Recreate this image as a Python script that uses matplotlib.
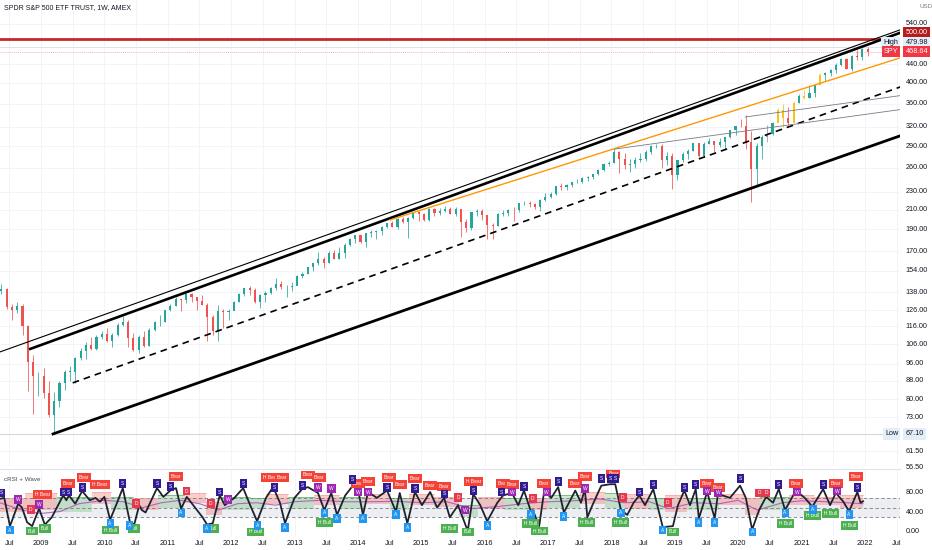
import matplotlib
matplotlib.use("Agg")
import matplotlib.pyplot as plt
import matplotlib.transforms as mtransforms
from matplotlib.ticker import NullLocator
import numpy as np

plt.rcParams['font.family'] = ['Liberation Sans', 'DejaVu Sans']

# ---------------- price data (monthly OHLC) ----------------
start_year = 2008
start_month = 5
first_open = 138.9
closes = [
    140.35, 127.98, 126.30, 128.80, 115.99, 96.83, 89.96, 90.24,
    82.83, 73.93, 79.52, 87.00, 91.90, 91.95, 98.81, 102.46, 105.59, 103.56, 109.94, 111.44,
    107.39, 110.74, 117.00, 118.81, 109.37, 102.88, 110.00, 104.99, 114.12, 118.49, 118.52, 125.75,
    128.68, 133.15, 132.59, 136.58, 134.90, 131.97, 129.33, 121.66, 113.15, 125.50, 124.99, 125.50,
    131.32, 137.02, 140.81, 139.87, 131.47, 136.10, 137.71, 140.64, 143.97, 141.35, 141.45, 142.41,
    149.70, 151.61, 156.67, 159.68, 163.45, 160.42, 168.71, 163.65, 168.01, 175.79, 181.00, 184.69,
    178.21, 186.29, 187.01, 188.31, 192.68, 195.72, 192.50, 200.71, 197.02, 201.66, 207.20, 205.54,
    199.45, 210.66, 206.43, 208.46, 211.14, 205.85, 210.50, 197.67, 191.63, 207.93, 208.69, 203.87,
    193.72, 193.56, 205.52, 206.33, 209.84, 209.48, 217.12, 217.38, 216.30, 212.55, 220.38, 223.53,
    227.53, 236.47, 235.74, 238.08, 241.44, 241.80, 246.77, 247.49, 251.23, 257.15, 265.01, 266.86,
    281.90, 271.65, 263.15, 264.51, 270.94, 271.28, 281.33, 290.31, 290.72, 270.63, 275.65, 249.92,
    269.93, 278.68, 282.48, 294.02, 275.27, 293.00, 297.43, 292.45, 296.77, 303.33, 314.31, 321.86,
    321.73, 296.26, 257.75, 290.48, 304.32, 308.36, 326.52, 349.31, 334.89, 326.54, 362.06, 373.88,
    370.07, 380.36, 396.33, 417.30, 420.04, 428.06, 438.51, 451.56, 429.14, 459.25, 455.56, 474.96,
    468.64,
]
highs = [
    144.0, 141.0, 130.0, 131.0, 130.0, 117.0, 100.0, 92.0,
    94.0, 88.0, 83.0, 88.0, 93.0, 95.0, 99.0, 104.0, 107.0, 110.0, 111.0, 113.0,
    115.0, 112.0, 118.0, 122.1, 120.0, 112.0, 111.0, 113.0, 115.0, 119.0, 122.6, 126.0,
    130.0, 134.7, 133.0, 137.2, 137.2, 134.5, 136.0, 130.5, 123.0, 129.0, 127.0, 127.0,
    132.0, 137.5, 141.0, 142.2, 141.0, 136.5, 138.5, 142.0, 148.1, 146.0, 143.0, 145.5,
    150.5, 153.3, 157.0, 160.0, 169.1, 165.0, 170.0, 170.9, 173.6, 177.0, 181.8, 184.7,
    184.7, 186.7, 189.7, 189.0, 192.8, 196.5, 198.3, 201.0, 201.9, 202.0, 207.8, 209.0,
    206.8, 212.2, 211.9, 212.0, 213.8, 212.5, 213.0, 211.0, 200.0, 208.0, 211.0, 211.0,
    201.9, 196.0, 206.5, 209.8, 210.7, 212.5, 217.7, 219.6, 219.2, 217.0, 221.8, 228.3,
    229.7, 237.3, 240.3, 239.5, 242.0, 245.0, 248.0, 248.9, 252.0, 258.0, 266.0, 268.6,
    286.6, 283.0, 280.0, 271.3, 274.2, 279.5, 284.4, 291.7, 293.9, 293.2, 281.2, 280.4,
    270.5, 281.3, 285.2, 294.5, 294.9, 296.3, 302.2, 297.6, 302.5, 304.0, 315.5, 322.1,
    332.9, 339.1, 313.8, 294.9, 306.8, 323.4, 327.2, 351.3, 358.8, 354.0, 364.4, 378.5,
    385.9, 395.6, 398.0, 420.7, 422.8, 428.6, 441.8, 453.1, 454.0, 461.0, 473.5, 479.0,
    479.98,
]
lows = [
    137.0, 127.0, 120.0, 124.0, 111.0, 83.6, 74.3, 81.5,
    80.5, 73.0, 67.1, 77.0, 84.0, 88.0, 87.0, 97.5, 98.0, 103.0, 103.0, 108.5,
    107.0, 104.6, 110.5, 116.0, 104.4, 102.5, 101.1, 104.5, 105.0, 113.0, 116.0, 118.5,
    125.5, 128.5, 125.3, 130.5, 131.5, 125.9, 129.0, 107.4, 111.0, 107.4, 115.0, 120.0,
    126.0, 131.0, 135.0, 135.8, 130.5, 127.1, 131.5, 136.5, 139.5, 140.5, 134.7, 139.0,
    144.7, 148.0, 151.0, 153.5, 158.7, 155.7, 160.0, 163.0, 163.7, 164.5, 174.5, 177.3,
    176.9, 173.7, 182.6, 181.3, 184.7, 191.7, 192.5, 190.5, 196.0, 181.9, 200.5, 197.9,
    198.5, 198.3, 203.0, 204.0, 207.0, 205.0, 203.0, 182.4, 187.0, 189.0, 203.0, 199.0,
    181.1, 181.0, 193.5, 203.0, 202.8, 198.7, 207.5, 215.5, 212.3, 211.2, 208.4, 219.5,
    222.7, 226.6, 232.0, 232.5, 235.4, 240.0, 241.0, 242.7, 246.0, 251.0, 256.0, 262.5,
    266.0, 252.9, 257.8, 254.7, 259.0, 268.0, 269.5, 279.2, 287.0, 259.8, 263.1, 233.8,
    243.7, 268.0, 272.0, 282.5, 275.0, 274.5, 292.5, 281.7, 289.0, 284.8, 303.0, 307.0,
    320.0, 285.5, 218.3, 238.0, 272.0, 296.7, 306.5, 327.7, 319.8, 322.6, 327.2, 362.0,
    368.3, 370.4, 371.9, 398.2, 404.0, 414.7, 421.0, 436.1, 428.8, 425.4, 450.4, 448.9,
    459.0,
]
yellow_months = ['2020-08', '2020-09', '2020-11', '2021-01', '2021-04']
gray_months = ['2020-06']

last_price = 468.64
high_price = 479.98
low_price = 67.10
resistance_level = 500.0

# ---------------- drawings (decimal year, price) ----------------
upper_thin_t = [2008.35, 2022.55];  upper_thin_p = [101.8, 523.8]
upper_thick_t = [2008.83, 2022.55]; upper_thick_p = [103.4, 515.9]
lower_thick_t = [2009.19, 2022.55]; lower_thick_p = [67.1, 305.5]
dashed_t = [2009.50, 2022.60];      dashed_p = [87.0, 393.9]
orange_t = [2014.51, 2022.60];      orange_p = [199.3, 456.6]
gray_a_t = [2018.06, 2022.63];      gray_a_p = [285.9, 350.5]
gray_b_t = [2020.11, 2022.63];      gray_b_p = [336.4, 376.3]
arrow_t = [2021.17, 2022.63];       arrow_p = [401.0, 401.0]

# ---------------- indicator (cRSI + Wave) ----------------
rsi_t = [2008.35, 2008.42, 2008.51, 2008.64, 2008.70, 2008.78, 2008.86, 2008.97, 2009.06, 2009.17,
         2009.25, 2009.35, 2009.40, 2009.44, 2009.54, 2009.65, 2009.77, 2009.86, 2009.93, 2010.00,
         2010.09, 2010.20, 2010.29, 2010.40, 2010.47, 2010.55, 2010.59, 2010.65, 2010.83, 2010.93,
         2011.04, 2011.13, 2011.21, 2011.30, 2011.46, 2011.55, 2011.62, 2011.71, 2011.82, 2011.90,
         2011.95, 2012.05, 2012.19, 2012.30, 2012.41, 2012.55, 2012.64, 2012.69, 2012.77, 2012.85,
         2013.00, 2013.12, 2013.21, 2013.37, 2013.47, 2013.58, 2013.67, 2013.80, 2013.92, 2014.00,
         2014.08, 2014.16, 2014.30, 2014.46, 2014.60, 2014.66, 2014.78, 2014.90, 2015.01, 2015.14,
         2015.25, 2015.36, 2015.45, 2015.58, 2015.71, 2015.74, 2015.82, 2015.93, 2016.04, 2016.20,
         2016.29, 2016.43, 2016.53, 2016.62, 2016.73, 2016.76, 2016.86, 2016.94, 2017.05, 2017.16,
         2017.25, 2017.43, 2017.52, 2017.58, 2017.62, 2017.70, 2017.84, 2017.98, 2018.06, 2018.15,
         2018.25, 2018.35, 2018.44, 2018.53, 2018.66, 2018.81, 2018.97, 2019.05, 2019.15, 2019.24,
         2019.33, 2019.38, 2019.51, 2019.63, 2019.68, 2019.87, 2020.03, 2020.12, 2020.22, 2020.33,
         2020.44, 2020.55, 2020.64, 2020.74, 2020.91, 2021.05, 2021.17, 2021.34, 2021.45, 2021.54,
         2021.66, 2021.75, 2021.88, 2021.93, 2021.97]
rsi_v = [68, 70, 12, 58, 50, 20, 12, 48, 15, 30,
         50, 75, 65, 75, 58, 84, 65, 70, 62, 72,
         25, 60, 90, 22, 15, 55, 45, 40, 90, 72,
         85, 90, 48, 72, 45, 30, 15, 18, 75, 55,
         60, 70, 90, 55, 22, 70, 88, 84, 60, 18,
         70, 88, 92, 80, 45, 80, 35, 75, 95, 88,
         35, 82, 70, 85, 42, 80, 18, 82, 55, 82,
         50, 70, 30, 55, 10, 8, 78, 55, 22, 60,
         75, 80, 55, 85, 42, 45, 12, 85, 70, 92,
         40, 85, 60, 88, 30, 55, 95, 98, 98, 45,
         35, 60, 75, 55, 88, 10, 12, 55, 85, 55,
         88, 28, 82, 28, 78, 70, 95, 70, 5, 45,
         72, 60, 88, 45, 85, 70, 52, 88, 55, 80,
         62, 42, 82, 60, 63]
avg_t = [2008.35, 2008.7, 2009.0, 2009.3, 2009.6, 2010.0, 2010.3, 2010.6, 2010.9, 2011.2,
         2011.5, 2011.8, 2012.1, 2012.4, 2012.7, 2013.0, 2013.4, 2013.8, 2014.2, 2014.6,
         2015.0, 2015.4, 2015.8, 2016.2, 2016.6, 2017.0, 2017.4, 2017.8, 2018.2, 2018.6,
         2018.9, 2019.3, 2019.7, 2020.0, 2020.3, 2020.7, 2021.0, 2021.4, 2021.7, 2021.97]
avg_v = [60, 45, 38, 42, 58, 65, 62, 50, 60, 65,
         58, 45, 58, 60, 55, 62, 65, 62, 62, 63,
         60, 62, 48, 52, 58, 62, 64, 68, 60, 62,
         48, 60, 58, 65, 45, 60, 64, 62, 60, 58]
cloud_t = [2008.35, 2008.75, 2009.25, 2009.8, 2010.1, 2010.45, 2010.85, 2011.25, 2011.6, 2011.85,
           2012.3, 2012.55, 2012.9, 2013.3, 2013.7, 2014.1, 2014.5, 2014.8, 2015.2, 2015.6,
           2015.9, 2016.3, 2016.75, 2017.0, 2017.5, 2017.9, 2018.2, 2018.6, 2018.85, 2019.2,
           2019.7, 2020.1, 2020.35, 2020.8, 2021.2, 2021.6, 2021.97]
cloud_top = [70, 80, 72, 82, 72, 70, 75, 80, 62, 72,
             70, 78, 72, 76, 72, 78, 70, 78, 72, 55,
             72, 70, 70, 75, 82, 80, 78, 70, 75, 70,
             78, 70, 72, 75, 72, 75]
cloud_bot = [40, 45, 40, 58, 45, 45, 50, 60, 35, 45,
             50, 58, 48, 55, 48, 58, 45, 55, 52, 30,
             48, 45, 45, 50, 58, 50, 48, 45, 40, 45,
             55, 35, 45, 55, 55, 50]
cloud_bull = [0, 0, 1, 0, 1, 0, 1, 0, 0, 1,
              1, 0, 1, 0, 1, 0, 1, 0, 0, 1,
              0, 1, 0, 1, 0, 1, 0, 1, 0, 1,
              0, 0, 1, 0, 0, 0]
rsi_levels = [70, 50, 30]

bear_t = [2009.02, 2009.43, 2009.68, 2009.93, 2011.13, 2012.62, 2012.80, 2013.21, 2013.39, 2014.00,
          2014.16, 2014.49, 2014.66, 2014.90, 2015.14, 2015.36, 2015.82, 2016.29, 2016.43, 2016.94,
          2017.43, 2017.58, 2018.03, 2019.51, 2019.68, 2020.91, 2021.54, 2021.86]
bear_v = [76, 100, 111, 98, 113, 111, 111, 117, 111, 100,
          103, 111, 98, 109, 96, 94, 103, 100, 98, 100,
          100, 113, 119, 100, 92, 100, 100, 113]
bear_txt = ['H Bear', 'Bear', 'Bear', 'H Bear', 'Bear', 'H Bear', 'Bear', 'Bear', 'Bear', 'Bear',
            'Bear', 'Bear', 'Bear', 'Bear', 'Bear', 'Bear', 'H Bear', 'Bear', 'Bear', 'Bear',
            'Bear', 'Bear', 'Bear', 'Bear', 'Bear', 'Bear', 'Bear', 'Bear']
bull_t = [2008.86, 2009.06, 2010.09, 2010.47, 2011.71, 2012.39, 2013.47, 2015.45, 2015.74, 2016.73,
          2016.86, 2017.61, 2018.15, 2018.97, 2020.74, 2021.17, 2021.45, 2021.76]
bull_v = [2, 8, 4, 8, 8, 0, 20, 8, 0, 18,
          2, 20, 20, 0, 18, 33, 37, 14]
bull_txt = ['Bull', 'Bull', 'H Bull', 'Bull', 'Bull', 'H Bull', 'H Bull', 'H Bull', 'Bull', 'H Bull',
            'H Bull', 'H Bull', 'H Bull', 'Bull', 'H Bull', 'H Bull', 'H Bull', 'H Bull']
a_t = [2008.51, 2010.09, 2010.40, 2011.21, 2011.62, 2012.41, 2012.85, 2013.47, 2013.67, 2014.08,
       2014.60, 2014.78, 2016.04, 2016.73, 2017.25, 2018.15, 2018.81, 2019.38, 2019.63, 2020.22,
       2020.74, 2021.18, 2021.75]
a_v = [4, 18, 14, 39, 8, 14, 10, 39, 27, 27,
       35, 10, 14, 35, 31, 39, 4, 20, 20, 0,
       39, 47, 35]
s_t = [2008.37, 2009.35, 2009.44, 2009.65, 2010.29, 2010.83, 2011.04, 2011.82, 2012.19, 2012.69,
       2013.12, 2013.92, 2014.46, 2014.90, 2015.36, 2015.82, 2016.26, 2016.62, 2017.16, 2017.84,
       2017.98, 2018.06, 2018.44, 2018.66, 2019.15, 2019.33, 2020.03, 2020.64, 2021.34, 2021.88]
s_v = [80, 82, 82, 92, 100, 100, 94, 82, 100, 92,
       96, 107, 92, 90, 78, 86, 82, 94, 103, 109,
       109, 109, 82, 98, 92, 98, 109, 98, 98, 92]
w_t = [2008.64, 2008.97, 2011.95, 2013.37, 2013.58, 2014.00, 2014.16, 2015.69, 2016.43, 2016.98,
       2017.58, 2019.51, 2019.68, 2020.93, 2021.56]
w_v = [66, 57, 66, 92, 90, 82, 82, 45, 82, 82,
       90, 84, 80, 82, 84]
d_t = [2008.84, 2010.50, 2011.30, 2011.68, 2015.58, 2016.76, 2018.18, 2018.89, 2020.33, 2020.44]
d_v = [47, 59, 84, 59, 70, 68, 70, 61, 80, 80]

price_ticks = [540, 440, 400, 360, 320, 290, 260, 230, 210, 190, 170, 154, 138, 126, 116, 106,
               96, 88, 80, 73, 61.5]
extra_price_tick = 56.5
rsi_ticks = [80, 40, 0]
x_ticks = [2008.5 + 0.5 * i for i in range(29)]
x_labels = ['Jul' if i % 2 == 0 else str(2009 + i // 2) for i in range(29)]

# ---------------- figure ----------------
W, H = 932, 550
fig = plt.figure(figsize=(W / 100, H / 100), dpi=100)
fig.patch.set_facecolor('white')
ax = fig.add_axes([0, 84 / H, 900 / W, 466 / H])
ax2 = fig.add_axes([0, 13 / H, 900 / W, 68 / H])

XMIN, XMAX = 2008.353, 2022.553
txt_col = '#131722'
grid_col = '#f0f3fa'

for a in (ax, ax2):
    a.set_xlim(XMIN, XMAX)
    for s in a.spines.values():
        s.set_visible(False)
    a.set_facecolor('white')

ax.set_yscale('log')
ax.set_ylim(57.0, 610.0)
ax.yaxis.set_major_locator(NullLocator())
ax.yaxis.set_minor_locator(NullLocator())
ax.set_xticks([])

# grid
for p in price_ticks:
    ax.axhline(p, color=grid_col, lw=0.6, zorder=0)
for xt in x_ticks:
    ax.axvline(xt, color=grid_col, lw=0.6, zorder=0)
    ax2.axvline(xt, color=grid_col, lw=0.6, zorder=0)

# candles
n = len(closes)
opens = [first_open] + closes[:-1]
month_keys = []
tt = []
for i in range(n):
    m = start_month - 1 + i
    y = start_year + m // 12
    mm = m % 12 + 1
    month_keys.append(f"{y}-{mm:02d}")
    tt.append(start_year + (m + 0.5) / 12)
tt = np.array(tt)
cols = []
for i in range(n):
    c = '#26a69a' if closes[i] >= opens[i] else '#ef5350'
    if month_keys[i] in yellow_months:
        c = '#f5c518'
    elif month_keys[i] in gray_months:
        c = '#9598a1'
    cols.append(c)
ax.vlines(tt, lows, highs, colors=cols, lw=0.55, zorder=2)
bottoms = np.minimum(opens, closes)
heights = np.maximum(np.abs(np.array(closes) - np.array(opens)), 0.3)
ax.bar(tt, heights, bottom=bottoms, width=0.4 / 12, color=cols, lw=0, zorder=3)

# horizontal levels
ax.axhline(resistance_level, color='#c62828', lw=2.0, zorder=4)
ax.axhline(high_price, color='#d6e4f5', lw=0.7, zorder=1)
ax.axhline(last_price, color='#f7b3b6', lw=0.7, ls=(0, (1, 1)), zorder=1)
ax.axhline(low_price, color='#d1d4dc', lw=0.7, zorder=1)

# trend lines
ax.plot(upper_thin_t, upper_thin_p, color='black', lw=0.8, zorder=5)
ax.plot(upper_thick_t, upper_thick_p, color='black', lw=1.9, zorder=5)
ax.plot(lower_thick_t, lower_thick_p, color='black', lw=2.0, zorder=5)
ax.plot(dashed_t, dashed_p, color='black', lw=1.2, ls=(0, (4, 3)), zorder=5)
ax.plot(orange_t, orange_p, color='#ff9800', lw=1.0, zorder=5)
ax.plot(gray_a_t, gray_a_p, color='#787b86', lw=0.6, zorder=5)
ax.plot(gray_b_t, gray_b_p, color='#787b86', lw=0.6, zorder=5)
ax.annotate('', xy=(arrow_t[1], arrow_p[1]), xytext=(arrow_t[0], arrow_p[0]),
            arrowprops=dict(arrowstyle='->', color='#5d606b', lw=1.3,
                            shrinkA=0, shrinkB=0, mutation_scale=6), zorder=5)

# right price scale labels
trans = mtransforms.blended_transform_factory(ax.transAxes, ax.transData)
fs = 5.2
for p in price_ticks:
    ax.text(1.006, p, f"{p:.2f}", transform=trans, fontsize=fs, color=txt_col,
            va='center', ha='left', clip_on=False)
ax.text(1.006, extra_price_tick, f"{extra_price_tick:.2f}", transform=trans, fontsize=fs,
        color=txt_col, va='center', ha='left', clip_on=False)
ax.text(1.006, 516, f"{resistance_level:.2f}", transform=trans, fontsize=fs, color='white',
        va='center', ha='left', clip_on=False, zorder=10,
        bbox=dict(boxstyle='square,pad=0.3', fc='#b71c1c', ec='none'))
ax.text(1.006, 490.5, f"{high_price:.2f}", transform=trans, fontsize=fs, color=txt_col,
        va='center', ha='left', clip_on=False, zorder=10,
        bbox=dict(boxstyle='square,pad=0.3', fc='#e3eefb', ec='none'))
ax.text(0.998, 490.5, "High", transform=trans, fontsize=fs, color=txt_col,
        va='center', ha='right', clip_on=False, zorder=10,
        bbox=dict(boxstyle='square,pad=0.3', fc='#e3eefb', ec='none'))
ax.text(1.006, last_price, f"{last_price:.2f}", transform=trans, fontsize=fs, color='white',
        va='center', ha='left', clip_on=False, zorder=10,
        bbox=dict(boxstyle='square,pad=0.3', fc='#f23645', ec='none'))
ax.text(0.998, last_price, "SPY", transform=trans, fontsize=fs, color='white',
        va='center', ha='right', clip_on=False, zorder=10,
        bbox=dict(boxstyle='square,pad=0.3', fc='#f23645', ec='none'))
ax.text(1.006, low_price, f"{low_price:.2f}", transform=trans, fontsize=fs, color=txt_col,
        va='center', ha='left', clip_on=False, zorder=10,
        bbox=dict(boxstyle='square,pad=0.3', fc='#e3eefb', ec='none'))
ax.text(0.998, low_price, "Low", transform=trans, fontsize=fs, color=txt_col,
        va='center', ha='right', clip_on=False, zorder=10,
        bbox=dict(boxstyle='square,pad=0.3', fc='#e3eefb', ec='none'))
ax.text(1.022, 0.985, "USD", transform=ax.transAxes, fontsize=4.5, color='#787b86',
        va='center', ha='left', clip_on=False)

# title
ax.text(0.004, 0.983, "SPDR S&P 500 ETF TRUST, 1W, AMEX", transform=ax.transAxes,
        fontsize=5.0, color=txt_col, va='center', ha='left')

# ---------------- indicator pane ----------------
ax2.set_ylim(-10.3, 129.2)
ax2.set_yticks([])
ax2.spines['top'].set_visible(True)
ax2.spines['top'].set_color('#e0e3eb')
ax2.spines['top'].set_linewidth(0.8)

ax2.fill_between([XMIN, XMAX], rsi_levels[2], rsi_levels[0], color='#eceef2', lw=0, zorder=0)
for lv in rsi_levels:
    ax2.axhline(lv, color='#787b86', lw=0.6, ls=(0, (4, 3)), zorder=1)

for i in range(len(cloud_t) - 1):
    if cloud_bull[i]:
        fc, ec = '#4caf50', '#43a047'
    else:
        fc, ec = '#f44336', '#ef9a9a'
    ax2.fill_between([cloud_t[i], cloud_t[i + 1]], cloud_bot[i], cloud_top[i],
                     color=fc, alpha=0.26, lw=0, zorder=1)
    ax2.plot([cloud_t[i], cloud_t[i + 1]], [cloud_top[i], cloud_top[i]], color=ec,
             lw=0.5, alpha=0.8, zorder=1)

ax2.plot(avg_t, avg_v, color='#ab47bc', lw=0.8, alpha=0.8, zorder=2)
ax2.plot(rsi_t, rsi_v, color='#1e222d', lw=1.3, zorder=3)

lfs = 3.5


def box_labels(ts, vs, txts, fc):
    for t0, v0, s in zip(ts, vs, txts):
        ax2.text(t0, v0, s, fontsize=lfs, color='white', ha='center', va='center', zorder=6,
                 bbox=dict(boxstyle='square,pad=0.4', fc=fc, ec='none'))


box_labels(bear_t, bear_v, bear_txt, '#f44336')
box_labels(bull_t, bull_v, bull_txt, '#4caf50')
box_labels(a_t, a_v, ['A'] * len(a_t), '#2196f3')
box_labels(s_t, s_v, ['S'] * len(s_t), '#311b92')
box_labels(w_t, w_v, ['W'] * len(w_t), '#9c27b0')
box_labels(d_t, d_v, ['D'] * len(d_t), '#e53950')

trans2 = mtransforms.blended_transform_factory(ax2.transAxes, ax2.transData)
for v in rsi_ticks:
    ax2.text(1.006, v, f"{v:.2f}", transform=trans2, fontsize=fs, color=txt_col,
             va='center', ha='left', clip_on=False)
ax2.text(0.004, 0.84, "cRSI + Wave", transform=ax2.transAxes, fontsize=4.5, color='#434651',
         va='center', ha='left')

ax2.set_xticks(x_ticks)
ax2.set_xticklabels(x_labels, fontsize=5.3, color=txt_col)
ax2.tick_params(axis='x', length=0, pad=2)

fig.savefig('out.png', dpi=100, facecolor='white')
